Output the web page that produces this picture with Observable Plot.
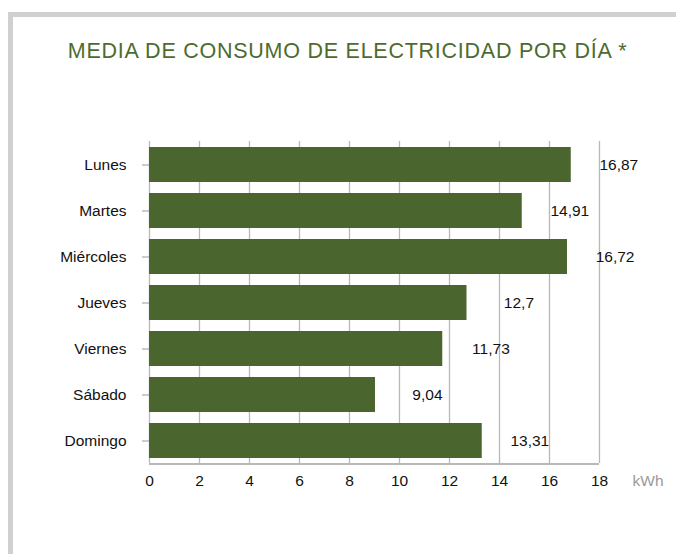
<!DOCTYPE html>
<html>
<head>
<meta charset="utf-8">
<script src="https://cdn.jsdelivr.net/npm/d3@7"></script>
<script src="https://cdn.jsdelivr.net/npm/@observablehq/plot@0.6"></script>
<style>
  html, body { margin: 0; padding: 0; background: #fff; }
  body { width: 676px; height: 554px; position: relative; overflow: hidden; font-family: "Liberation Sans", Arial, sans-serif; }
  #frame { position: absolute; left: 8px; top: 12px; width: 668px; height: 542px; box-sizing: border-box;
           border-top: 5px solid #d0d0d0; border-left: 5px solid #d0d0d0; }
  #title { position: absolute; left: 0; width: 695px; top: 41px; text-align: center; font-size: 21.5px; line-height: 1;
           letter-spacing: 0.75px; color: #4e6b2f; white-space: nowrap; }
  #chart { position: absolute; left: 0; top: 100px; }
</style>
</head>
<body>
<div id="frame"></div>
<div id="title">MEDIA DE CONSUMO DE ELECTRICIDAD POR DÍA *</div>
<div id="chart"></div>
<script>
const days = ["Lunes", "Martes", "Miércoles", "Jueves", "Viernes", "Sábado", "Domingo"];
const values = [16.87, 14.91, 16.72, 12.7, 11.73, 9.04, 13.31];
const xTicks = [0, 2, 4, 6, 8, 10, 12, 14, 16, 18];
const unitLabel = "kWh";

const data = days.map((d, i) => ({day: days[i], value: values[i]}));
const fmt = v => String(v).replace(".", ",");

const chart = Plot.plot({
  width: 676,
  height: 420,
  marginLeft: 149,
  marginRight: 77,
  marginTop: 41,
  marginBottom: 57,
  style: {fontFamily: "'Liberation Sans', Arial, sans-serif", fontSize: "15.5px", color: "#111", background: "transparent", overflow: "visible"},
  x: {domain: [0, 18], ticks: xTicks},
  y: {domain: days, paddingInner: 0.24, paddingOuter: 0.12},
  marks: [
    Plot.ruleX(xTicks, {stroke: "#b8b8b8", strokeWidth: 1.3}),
    Plot.barX(data, {x: "value", y: "day", fill: "#4b652e"}),
    Plot.ruleY([days[days.length - 1]], {x1: 0, x2: 18, dy: 23, stroke: "#a0a0a0", strokeWidth: 1.5}),
    Plot.axisY({tickSize: 7, tickPadding: 16, stroke: "#999", label: null, fill: "#111"}),
    Plot.axisX({ticks: xTicks, tickSize: 0, tickPadding: 11, label: null, tickFormat: d => String(d), fill: "#111"}),
    Plot.text(data, {x: "value", y: "day", text: d => fmt(d.value), textAnchor: "end", dx: 67, fill: "#111"}),
    Plot.text([unitLabel], {frameAnchor: "bottom-right", textAnchor: "start", dx: 33, dy: 22, fill: "#9a9a9a"})
  ]
});
document.getElementById("chart").appendChild(chart);
</script>
</body>
</html>
